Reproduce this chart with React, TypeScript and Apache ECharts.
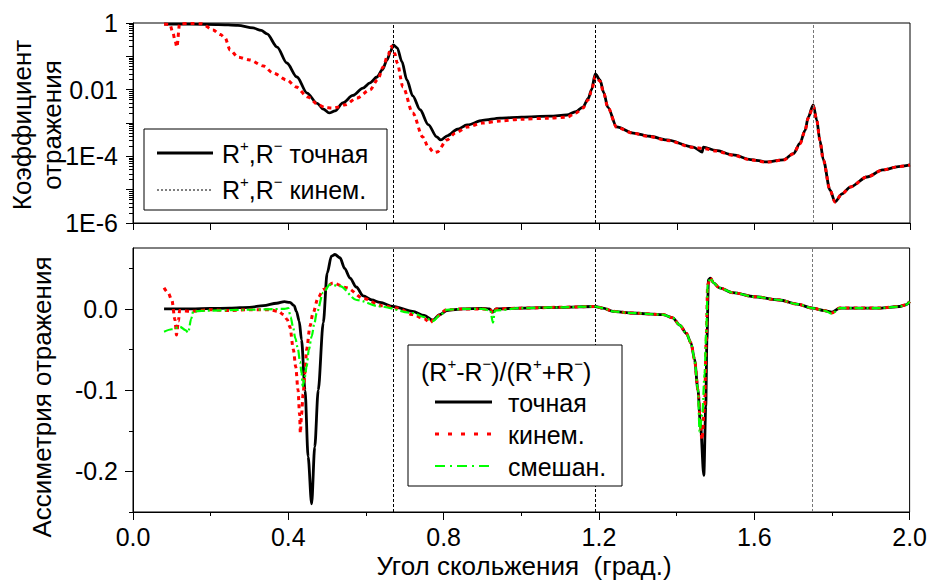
import React, { useEffect, useRef } from 'react';
import * as echarts from 'echarts';

// ---------- data ----------
// Top panel: reflection coefficient R+,R- (log scale)
const reflExact: [number, number][] = [
  [0.08, 0.93], [0.15, 0.92], [0.22, 0.9], [0.27, 0.85], [0.309, 0.71], [0.33, 0.6], [0.345, 0.47],
  [0.371, 0.19], [0.396, 0.063], [0.422, 0.024], [0.448, 0.0079], [0.474, 0.0039], [0.49, 0.0026],
  [0.505, 0.002], [0.52, 0.0023], [0.54, 0.004], [0.566, 0.0067], [0.592, 0.0112], [0.61, 0.016],
  [0.628, 0.024], [0.642, 0.04], [0.654, 0.078], [0.663, 0.14], [0.67, 0.22], [0.68, 0.18],
  [0.692, 0.07], [0.705, 0.0195], [0.72, 0.0065], [0.739, 0.0025], [0.76, 0.0009], [0.782, 0.00038],
  [0.792, 0.00031], [0.81, 0.00042], [0.835, 0.00065], [0.86, 0.00087], [0.9, 0.0012], [0.945, 0.0014],
  [1.0, 0.0015], [1.073, 0.0016], [1.117, 0.00174], [1.14, 0.0022], [1.158, 0.003], [1.172, 0.0055],
  [1.18, 0.0098], [1.19, 0.0295], [1.202, 0.0195], [1.212, 0.008], [1.222, 0.003], [1.245, 0.00076],
  [1.288, 0.0005], [1.33, 0.0004], [1.374, 0.00031], [1.442, 0.00019], [1.465, 0.000135], [1.468, 0.00019],
  [1.5, 0.00015], [1.545, 0.00011], [1.59, 0.00008], [1.631, 0.000068], [1.674, 0.000078], [1.7, 0.00012],
  [1.717, 0.00025], [1.73, 0.0006], [1.738, 0.0015], [1.751, 0.0035], [1.76, 0.00123], [1.768, 0.0003],
  [1.777, 0.000078], [1.794, 0.0000098], [1.807, 0.0000043], [1.825, 0.0000075], [1.846, 0.000012],
  [1.889, 0.000024], [1.93, 0.000039], [1.97, 0.000049], [2.0, 0.000055],
];

const reflKinem: [number, number][] = [
  [0.08, 0.93], [0.095, 0.9], [0.103, 0.5], [0.108, 0.3], [0.113, 0.19], [0.12, 0.95], [0.15, 0.97],
  [0.177, 0.95], [0.206, 0.62], [0.225, 0.45], [0.237, 0.355], [0.25, 0.155], [0.27, 0.095], [0.3, 0.078],
  [0.336, 0.051], [0.36, 0.032], [0.396, 0.0195], [0.42, 0.012], [0.45, 0.006], [0.477, 0.0035],
  [0.495, 0.0029], [0.512, 0.0028], [0.53, 0.003], [0.546, 0.0035], [0.576, 0.0056], [0.61, 0.0098],
  [0.63, 0.02], [0.644, 0.048], [0.656, 0.11], [0.666, 0.2], [0.674, 0.12], [0.68, 0.063], [0.695, 0.012],
  [0.72, 0.002], [0.746, 0.00038], [0.76, 0.00019], [0.775, 0.00013], [0.783, 0.000135], [0.808, 0.00031],
  [0.83, 0.0005], [0.86, 0.00076], [0.9, 0.001], [0.945, 0.00115], [1.0, 0.0013], [1.073, 0.0014],
  [1.117, 0.0015], [1.14, 0.002], [1.158, 0.0028], [1.172, 0.005], [1.18, 0.009], [1.19, 0.025],
  [1.202, 0.018], [1.212, 0.0075], [1.222, 0.003], [1.245, 0.00074], [1.288, 0.00049], [1.33, 0.00039],
  [1.374, 0.0003], [1.442, 0.000185], [1.47, 0.00017], [1.5, 0.000145], [1.545, 0.000108], [1.59, 0.000078],
  [1.631, 0.000067], [1.674, 0.000077], [1.7, 0.00012], [1.717, 0.00024], [1.73, 0.0006], [1.738, 0.0014],
  [1.751, 0.0032], [1.76, 0.0012], [1.768, 0.0003], [1.777, 0.000075], [1.794, 0.0000098], [1.807, 0.0000043],
  [1.825, 0.0000075], [1.846, 0.000012], [1.889, 0.000024], [1.93, 0.000039], [1.97, 0.000049], [2.0, 0.000055],
];

// Bottom panel: asymmetry (R+ - R-)/(R+ + R-)
const asymExact: [number, number][] = [
  [0.08, 0.0], [0.15, 0.0], [0.2, 0.0005], [0.25, 0.001], [0.3, 0.002], [0.336, 0.004], [0.37, 0.007],
  [0.39, 0.009], [0.404, 0.008], [0.415, 0.004], [0.421, -0.003], [0.428, -0.015], [0.434, -0.038],
  [0.443, -0.1], [0.451, -0.182], [0.46, -0.24], [0.468, -0.17], [0.477, -0.1], [0.49, -0.017],
  [0.5, 0.044], [0.511, 0.065], [0.52, 0.067], [0.533, 0.063], [0.545, 0.05], [0.559, 0.038],
  [0.575, 0.027], [0.593, 0.016], [0.615, 0.011], [0.636, 0.008], [0.67, 0.003], [0.72, -0.003],
  [0.75, -0.008], [0.772, -0.014], [0.79, -0.007], [0.808, -0.002], [0.85, 0.0], [0.9, 0.0005],
  [0.918, 0.0], [0.927, -0.004], [0.935, 0.0], [1.0, 0.001], [1.1, 0.002], [1.19, 0.003], [1.21, 0.001],
  [1.236, -0.003], [1.28, -0.005], [1.365, -0.007], [1.39, -0.011], [1.408, -0.02], [1.425, -0.03],
  [1.437, -0.042], [1.446, -0.062], [1.455, -0.1], [1.461, -0.14], [1.47, -0.205], [1.475, -0.12],
  [1.478, -0.038], [1.482, 0.036], [1.487, 0.038], [1.495, 0.032], [1.51, 0.026], [1.545, 0.02],
  [1.6, 0.015], [1.665, 0.011], [1.71, 0.006], [1.75, 0.001], [1.78, -0.002], [1.8, -0.004], [1.82, 0.001],
  [1.87, 0.001], [1.923, 0.001], [1.974, 0.003], [1.99, 0.005], [2.0, 0.009],
];

const asymKinem: [number, number][] = [
  [0.08, 0.026], [0.09, 0.02], [0.1, 0.011], [0.108, -0.013], [0.112, -0.032], [0.117, -0.015], [0.12, -0.002],
  [0.15, -0.003], [0.2, -0.001], [0.25, -0.002], [0.3, -0.001], [0.35, -0.001], [0.375, -0.003], [0.387, -0.007],
  [0.397, -0.013], [0.404, -0.022], [0.413, -0.05], [0.419, -0.071], [0.425, -0.1], [0.429, -0.13],
  [0.431, -0.153], [0.434, -0.13], [0.438, -0.105], [0.443, -0.079], [0.447, -0.05], [0.456, -0.021],
  [0.463, -0.006], [0.477, 0.014], [0.49, 0.024], [0.515, 0.032], [0.55, 0.026], [0.593, 0.013],
  [0.64, 0.004], [0.68, 0.001], [0.72, -0.007], [0.75, -0.012], [0.765, -0.017], [0.78, -0.01],
  [0.808, -0.001], [0.85, 0.0], [0.9, 0.0], [0.92, -0.001], [0.927, -0.005], [0.935, 0.0], [1.0, 0.001],
  [1.1, 0.002], [1.19, 0.003], [1.21, 0.001], [1.236, -0.003], [1.28, -0.005], [1.365, -0.007], [1.39, -0.011],
  [1.408, -0.02], [1.425, -0.03], [1.437, -0.042], [1.446, -0.062], [1.455, -0.1], [1.461, -0.14],
  [1.465, -0.161], [1.472, -0.12], [1.476, -0.04], [1.48, 0.03], [1.487, 0.038], [1.495, 0.032],
  [1.51, 0.026], [1.545, 0.02], [1.6, 0.015], [1.665, 0.011], [1.71, 0.006], [1.75, 0.001], [1.78, -0.002],
  [1.8, -0.005], [1.82, 0.001], [1.87, 0.001], [1.923, 0.001], [1.974, 0.003], [1.99, 0.005], [2.0, 0.009],
];

const asymMixed: [number, number][] = [
  [0.08, -0.028], [0.1, -0.025], [0.121, -0.022], [0.135, -0.026], [0.142, -0.029], [0.15, -0.012],
  [0.155, -0.003], [0.2, -0.002], [0.3, -0.001], [0.39, 0.0], [0.4, 0.001], [0.406, -0.01], [0.412, -0.022],
  [0.418, -0.036], [0.425, -0.05], [0.43, -0.065], [0.434, -0.079], [0.437, -0.095], [0.442, -0.085],
  [0.447, -0.071], [0.453, -0.05], [0.46, -0.034], [0.467, -0.018], [0.473, -0.005], [0.49, 0.02],
  [0.507, 0.03], [0.533, 0.028], [0.576, 0.011], [0.636, 0.003], [0.72, -0.005], [0.75, -0.01],
  [0.772, -0.015], [0.79, -0.008], [0.808, -0.001], [0.85, 0.0], [0.9, 0.0], [0.92, -0.002], [0.927, -0.017],
  [0.932, -0.002], [1.0, 0.001], [1.1, 0.002], [1.19, 0.003], [1.21, 0.001], [1.236, -0.003], [1.28, -0.005],
  [1.365, -0.007], [1.39, -0.011], [1.408, -0.02], [1.425, -0.03], [1.437, -0.042], [1.446, -0.062],
  [1.455, -0.1], [1.459, -0.151], [1.466, -0.13], [1.472, -0.08], [1.476, -0.03], [1.48, 0.03],
  [1.487, 0.038], [1.495, 0.032], [1.51, 0.026], [1.545, 0.02], [1.6, 0.015], [1.665, 0.011], [1.71, 0.006],
  [1.75, 0.001], [1.78, -0.002], [1.8, -0.006], [1.82, 0.001], [1.87, 0.001], [1.923, 0.001], [1.974, 0.003],
  [1.99, 0.005], [2.0, 0.009],
];

// Bragg angles (vertical dashed lines)
const braggAngles = [0.67, 1.19, 1.75];
const braggColors = ['#000000', '#000000', '#777777'];

// Axis ticks / labels
const topYTickValues = [1, 0.01, 1e-4, 1e-6];
const topYTickLabels = ['1', '0.01', '1E-4', '1E-6'];
const logMinorMultipliers = [2, 3, 4, 5, 6, 7, 8, 9];
const logMinorDecades = [-6, -5, -4, -3, -2, -1];
const asymMajorTicks = [-0.2, -0.1, 0.0];
const asymMinorTicks = [-0.25, -0.15, -0.05, 0.05];

const FONT = "'Liberation Sans', Arial, Helvetica, sans-serif";
const TICK_FS = 25;
const TITLE_FS = 26;
const LEGEND_FS = 25;

export default function App() {
  const ref = useRef<HTMLDivElement>(null);

  useEffect(() => {
    const chart = echarts.init(ref.current!, null, { renderer: 'svg' });

    const logMinorExps: number[] = [];
    logMinorDecades.forEach((d) => logMinorMultipliers.forEach((m) => logMinorExps.push(d + Math.log10(m))));

    const labelStyle = { color: '#000', fontSize: TICK_FS, fontFamily: FONT };
    const axisLine = { show: true, onZero: false, lineStyle: { color: '#000', width: 1 } };

    const rich = {
      n: { fontSize: LEGEND_FS, fontFamily: FONT, fill: '#000', lineHeight: 32 },
      s: { fontSize: 15, fontFamily: FONT, fill: '#000', lineHeight: 16, verticalAlign: 'top' },
    };

    const markLine = {
      silent: true,
      symbol: ['none', 'none'],
      label: { show: false },
      lineStyle: { type: [3, 2], width: 1, color: '#000' },
      data: braggAngles.map((a, i) => ({ xAxis: a, lineStyle: { color: braggColors[i], type: [3, 2], width: 1 } })),
    };

    const textEl = (x: number, y: number, text: string, rotation = 0, extra: any = {}) => ({
      type: 'text',
      x,
      y,
      rotation,
      z: 100,
      style: {
        text,
        fill: '#000',
        font: `${TITLE_FS}px ${FONT}`,
        align: 'center',
        verticalAlign: 'middle',
        textAlign: 'center',
        textVerticalAlign: 'middle',
        ...extra,
      },
    });

    const legendText = (x: number, y: number, text: string) => ({
      type: 'text',
      x,
      y,
      z: 101,
      style: {
        text,
        rich,
        fill: '#000',
        font: `${LEGEND_FS}px ${FONT}`,
        align: 'left',
        verticalAlign: 'middle',
        textAlign: 'left',
        textVerticalAlign: 'middle',
      },
    });

    const legendLine = (x1: number, x2: number, y: number, color: string, width: number, dash: any) => ({
      type: 'line',
      z: 101,
      shape: { x1, y1: y, x2, y2: y },
      style: { stroke: color, lineWidth: width, lineDash: dash },
    });

    const option: any = {
      animation: false,
      backgroundColor: '#fff',
      grid: [
        { left: 133, right: 20, top: 23, height: 200, show: true, borderColor: '#000', borderWidth: 1, backgroundColor: 'transparent' },
        { left: 133, right: 20, top: 248, height: 264, show: true, borderColor: '#000', borderWidth: 1, backgroundColor: 'transparent' },
      ],
      xAxis: [
        {
          type: 'value', gridIndex: 0, min: 0, max: 2, interval: 0.2, position: 'bottom',
          axisLine, axisLabel: { show: false },
          axisTick: { show: true, length: 7, lineStyle: { color: '#000', width: 1 } },
          splitLine: { show: false },
        },
        {
          type: 'value', gridIndex: 1, min: 0, max: 2, interval: 0.4, position: 'bottom',
          axisLine,
          axisLabel: { ...labelStyle, margin: 12, formatter: (v: number) => v.toFixed(1) },
          axisTick: { show: true, length: 8, lineStyle: { color: '#000', width: 1 } },
          minorTick: { show: true, splitNumber: 2, length: 4, lineStyle: { color: '#000', width: 1 } },
          splitLine: { show: false }, minorSplitLine: { show: false },
        },
      ],
      yAxis: [
        {
          type: 'log', logBase: 10, gridIndex: 0, min: 1e-6, max: 1, position: 'left',
          axisLine,
          axisTick: { show: true, length: 7, lineStyle: { color: '#000', width: 1 } },
          axisLabel: {
            ...labelStyle, margin: 15,
            formatter: (v: number) => {
              const i = topYTickValues.findIndex((t) => Math.abs(Math.log10(t) - Math.log10(v)) < 1e-6);
              return i >= 0 ? topYTickLabels[i] : '';
            },
          },
          splitLine: { show: false },
        },
        {
          type: 'value', gridIndex: 0, min: -6, max: 0, position: 'left',
          axisLine: { show: false }, axisLabel: { show: false }, splitLine: { show: false },
          axisTick: { show: true, length: 4, customValues: logMinorExps, lineStyle: { color: '#000', width: 1 } },
        },
        {
          type: 'value', gridIndex: 1, min: -0.25, max: 0.075, position: 'left',
          axisLine,
          axisTick: { show: true, length: 8, customValues: asymMajorTicks, lineStyle: { color: '#000', width: 1 } },
          axisLabel: { ...labelStyle, margin: 15, customValues: asymMajorTicks, formatter: (v: number) => v.toFixed(1) },
          splitLine: { show: false },
        },
        {
          type: 'value', gridIndex: 1, min: -0.25, max: 0.075, position: 'left',
          axisLine: { show: false }, axisLabel: { show: false }, splitLine: { show: false },
          axisTick: { show: true, length: 4, customValues: asymMinorTicks, lineStyle: { color: '#000', width: 1 } },
        },
      ],
      series: [
        {
          name: 'R+,R- точная', type: 'line', xAxisIndex: 0, yAxisIndex: 0, data: reflExact,
          showSymbol: false, smooth: 0.3, smoothMonotone: 'x', z: 3,
          lineStyle: { color: '#000', width: 2.8 },
          markLine,
        },
        {
          name: 'R+,R- кинем.', type: 'line', xAxisIndex: 0, yAxisIndex: 0, data: reflKinem,
          showSymbol: false, smooth: 0.3, smoothMonotone: 'x', z: 4,
          lineStyle: { color: '#ff0000', width: 3, type: [4, 4] },
        },
        {
          name: 'точная', type: 'line', xAxisIndex: 1, yAxisIndex: 2, data: asymExact,
          showSymbol: false, smooth: 0.3, smoothMonotone: 'x', z: 3,
          lineStyle: { color: '#000', width: 2.8 },
          markLine,
        },
        {
          name: 'кинем.', type: 'line', xAxisIndex: 1, yAxisIndex: 2, data: asymKinem,
          showSymbol: false, smooth: 0.3, smoothMonotone: 'x', z: 4,
          lineStyle: { color: '#ff0000', width: 3, type: [4, 4] },
        },
        {
          name: 'смешан.', type: 'line', xAxisIndex: 1, yAxisIndex: 2, data: asymMixed,
          showSymbol: false, smooth: 0.3, smoothMonotone: 'x', z: 5,
          lineStyle: { color: '#00ff00', width: 2.2, type: [9, 3, 2, 3] },
        },
      ],
      graphic: [
        textEl(37, 125, 'Коэффициент\nотражения', Math.PI / 2, { lineHeight: 30 }),
        textEl(42, 397, 'Ассиметрия отражения', Math.PI / 2),
        textEl(524, 566, 'Угол скольжения  (град.)'),
        // top legend
        { type: 'rect', z: 100, shape: { x: 144, y: 129, width: 243, height: 81 }, style: { fill: '#fff', stroke: '#000', lineWidth: 1 } },
        legendLine(157, 213, 153, '#000', 3, null),
        legendText(222, 154, '{n|R}{s|+}{n|,R}{s|−}{n| точная}'),
        legendLine(157, 213, 190, '#000', 1, [2, 2]),
        legendText(222, 190, '{n|R}{s|+}{n|,R}{s|−}{n| кинем.}'),
        // bottom legend
        { type: 'rect', z: 100, shape: { x: 408, y: 345, width: 214, height: 141 }, style: { fill: '#fff', stroke: '#000', lineWidth: 1 } },
        legendText(421, 372, '{n|(R}{s|+}{n|-R}{s|−}{n|)/(R}{s|+}{n|+R}{s|−}{n|)}'),
        legendLine(435, 492, 402, '#000', 3, null),
        legendText(508, 403, '{n|точная}'),
        legendLine(435, 492, 434, '#ff0000', 3, [4, 9]),
        legendText(508, 435, '{n|кинем.}'),
        legendLine(435, 492, 466, '#00ff00', 2.2, [10, 5, 2, 5]),
        legendText(508, 467, '{n|смешан.}'),
      ],
    };

    chart.setOption(option);
    return () => chart.dispose();
  }, []);

  return <div ref={ref} style={{ position: 'absolute', left: 0, top: 0, width: 930, height: 580 }} />;
}
